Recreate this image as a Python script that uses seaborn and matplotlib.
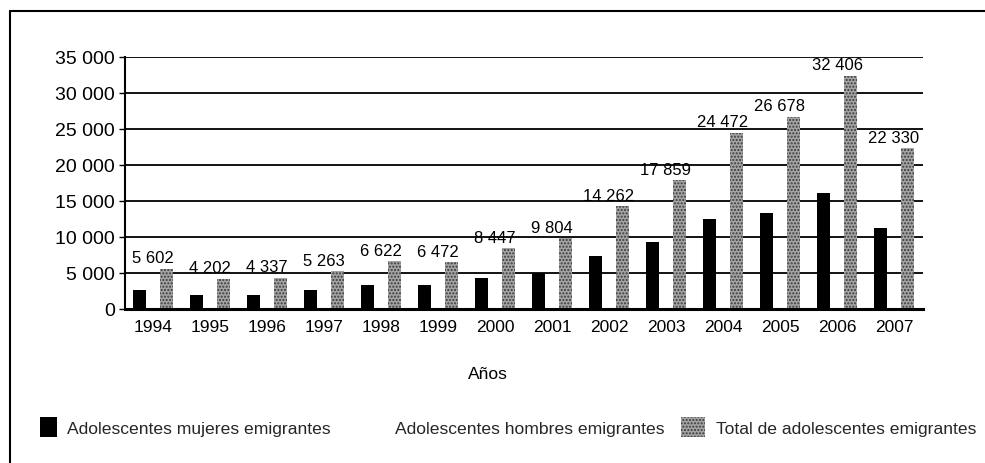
import matplotlib
matplotlib.use("Agg")
import matplotlib.pyplot as plt
import matplotlib.patches as mpatches
from matplotlib.lines import Line2D
from matplotlib.ticker import FuncFormatter
import pandas as pd
import seaborn as sns

# ---------------- data ----------------
years = ["1994", "1995", "1996", "1997", "1998", "1999", "2000",
         "2001", "2002", "2003", "2004", "2005", "2006", "2007"]
mujeres = [2600, 2000, 2000, 2600, 3300, 3400, 4300,
           5000, 7300, 9300, 12500, 13300, 16100, 11200]
hombres = [3002, 2202, 2337, 2663, 3322, 3072, 4147,
           4804, 6962, 8559, 11972, 13378, 16306, 11130]
total = [5602, 4202, 4337, 5263, 6622, 6472, 8447,
         9804, 14262, 17859, 24472, 26678, 32406, 22330]
series = ["Adolescentes mujeres emigrantes",
          "Adolescentes hombres emigrantes",
          "Total de adolescentes emigrantes"]
y_ticks = [0, 5000, 10000, 15000, 20000, 25000, 30000, 35000]
x_label = "Años"

df = pd.DataFrame({
    "Año": years * 3,
    "Serie": [series[0]] * len(years) + [series[1]] * len(years) + [series[2]] * len(years),
    "Valor": mujeres + hombres + total,
})

# ---------------- style ----------------
sns.set_theme(style="white")
plt.rcParams["font.family"] = ["Liberation Sans", "DejaVu Sans"]

BLACK = "#000000"
GRAY = "#a4a4a4"
HATCH = "#3a3a3a"
colors = [BLACK, "#ffffff", GRAY]

W, H = 985, 464
fig = plt.figure(figsize=(W / 100, H / 100), dpi=100)
fig.patch.set_facecolor("white")

x0, x1 = 124.5, 922.5
y0, y1 = 310, 58
ax = fig.add_axes([x0 / W, (H - y0) / H, (x1 - x0) / W, (y0 - y1) / H])

sns.barplot(data=df, x="Año", y="Valor", hue="Serie", order=years,
            hue_order=series, palette=colors, width=0.7, saturation=1,
            ax=ax, legend=False, linewidth=0)

# style bar containers
for i, cont in enumerate(ax.containers):
    for p in cont.patches:
        p.set_linewidth(0)
        if i == 1:
            p.set_alpha(0)
        if i == 2:
            p.set_hatch(".....")
            p.set_edgecolor(HATCH)

ax.set_ylim(0, 35000)
ax.set_xlim(-0.5, len(years) - 0.5)
ax.set_yticks(y_ticks)
ax.yaxis.set_major_formatter(FuncFormatter(lambda v, _: f"{int(v):,}".replace(",", " ")))
ax.yaxis.grid(True, color="black", linewidth=1.3)
ax.set_axisbelow(True)

for s in ["top", "right"]:
    ax.spines[s].set_visible(False)
ax.spines["left"].set_color("black")
ax.spines["left"].set_linewidth(1.5)
ax.spines["bottom"].set_color("black")
ax.spines["bottom"].set_linewidth(2.2)

ax.tick_params(axis="y", length=4, width=1, color="black", pad=3, labelsize=14, labelcolor="black", left=True)
ax.tick_params(axis="x", length=0, pad=7, labelsize=12.5, labelcolor="black")
ax.set_ylabel("")
ax.set_xlabel(x_label, fontsize=12.5, color="black")
ax.xaxis.set_label_coords((488 - x0) / (x1 - x0), (y0 - 367) / (y0 - y1))
ax.xaxis.label.set_va("top")

# data labels for totals
for i, v in enumerate(total):
    ax.annotate(f"{v:,}".replace(",", " "), xy=(i, v), xytext=(0, 2.5),
                textcoords="offset points", ha="center", va="bottom",
                fontsize=12, color="black")

# legend (three separate entries to match spacing)
handles = [mpatches.Patch(facecolor=BLACK, edgecolor="none"),
           mpatches.Patch(facecolor="none", edgecolor="none"),
           mpatches.Patch(facecolor=GRAY, edgecolor=HATCH, hatch=".....", linewidth=0)]
leg_x = [40, 368, 681]
hlen = [0.95, 0.95, 1.35]
hpad = [0.6, 0.6, 0.65]
for h, lab, lx, hl, hp in zip(handles, series, leg_x, hlen, hpad):
    fig.legend([h], [lab], loc="center left", bbox_to_anchor=(lx / W, 1 - 428 / H),
               frameon=False, fontsize=12.6, handlelength=hl, handleheight=1.3,
               handletextpad=hp, borderpad=0, borderaxespad=0)

# outer frame
fig.add_artist(Line2D([10 / W, 10 / W], [0, 1 - 12 / H], transform=fig.transFigure,
                      color="black", linewidth=1.5))
fig.add_artist(Line2D([10 / W, 1], [1 - 12 / H, 1 - 12 / H], transform=fig.transFigure,
                      color="black", linewidth=1.5))

fig.savefig("out.png", dpi=100, facecolor="white")
